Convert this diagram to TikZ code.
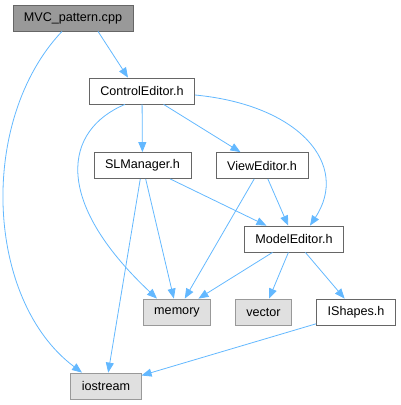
\documentclass[tikz,border=0pt]{standalone}
\usepackage{fontspec}
\setmainfont{Liberation Sans}
\usetikzlibrary{arrows.meta}
\definecolor{edgeblue}{HTML}{63B8FF}
\begin{document}
\begin{tikzpicture}[
    x=1pt, y=-1pt,
    every node/.style={font=\fontsize{12.6}{15}\selectfont},
    file/.style={rectangle, draw=black!60, fill=white, line width=0.8pt,
        minimum height=26pt, inner xsep=11pt},
    mainfile/.style={file, fill=black!40},
    syshdr/.style={file, draw=black!40, fill=black!12},
    dep/.style={draw=edgeblue, line width=0.8pt,
        -{Triangle[length=10pt,width=8pt]}},
]
\useasboundingbox (0,0) rectangle (401,405);
\node[mainfile] (mvc) at (73,18) {MVC\_pattern.cpp};
\node[file] (ce) at (142,91) {ControlEditor.h};
\node[file] (slm) at (142.5,165.5) {SLManager.h};
\node[file] (ve) at (262,165.5) {ViewEditor.h};
\node[file] (me) at (294,239) {ModelEditor.h};
\node[syshdr] (mem) at (177,312) {memory};
\node[syshdr] (vec) at (263.5,312) {vector};
\node[file] (ish) at (356,312) {IShapes.h};
\node[syshdr] (io) at (106,386) {iostream};

\draw[dep] ([xshift=25pt]mvc.south) -- ([xshift=-14pt]ce.north);
\draw[dep] ([xshift=-11pt]mvc.south) .. controls (-22,120) and (-15,300) .. ([xshift=-24pt]io.north);
\draw[dep] (ce) -- (slm);
\draw[dep] (ce) -- (ve);
\draw[dep] ([xshift=-17pt]ce.south) .. controls (64,130) and (52,200) .. ([xshift=-20pt]mem.north);
\draw[dep] ([yshift=-4pt]ce.east) .. controls (300,105) and (350,165) .. ([xshift=16pt]me.north);
\draw[dep] (slm) -- (mem);
\draw[dep] (slm) -- (io);
\draw[dep] (slm) -- (me);
\draw[dep] (ve) -- (mem);
\draw[dep] (ve) -- (me);
\draw[dep] (me) -- (mem);
\draw[dep] (me) -- (vec);
\draw[dep] (me) -- (ish);
\draw[dep] (ish) -- (io);
\end{tikzpicture}
\end{document}
